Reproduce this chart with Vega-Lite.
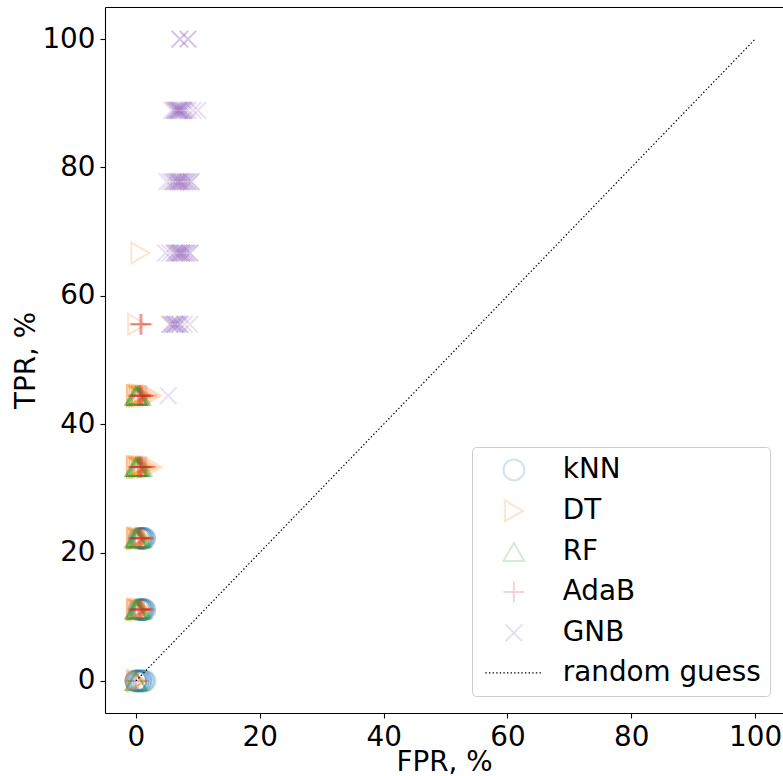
{
  "$schema": "https://vega.github.io/schema/vega-lite/v6.json",
  "width": 678,
  "height": 706,
  "autosize": {"type": "none"},
  "padding": {"left": 105, "top": 7, "right": 0, "bottom": 63},
  "config": {
    "view": {"stroke": null},
    "font": "DejaVu Sans",
    "axis": {
      "grid": false,
      "domainColor": "#000000",
      "domainWidth": 1.1,
      "tickColor": "#000000",
      "tickWidth": 1.1,
      "tickSize": 5,
      "labelPadding": 5,
      "labelFontSize": 27.8,
      "labelColor": "#000000",
      "labelFont": "DejaVu Sans",
      "titleFont": "DejaVu Sans",
      "titleFontSize": 27.8,
      "titleFontWeight": "normal",
      "titleColor": "#000000"
    },
    "legend": {
      "orient": "none",
      "legendX": 367,
      "legendY": 440,
      "padding": 9,
      "fillColor": "rgba(255,255,255,0.8)",
      "strokeColor": "#cccccc",
      "cornerRadius": 4,
      "labelFont": "DejaVu Sans",
      "labelFontSize": 27.8,
      "labelColor": "#000000",
      "labelLimit": 0,
      "labelOffset": 35,
      "symbolOffset": 19,
      "symbolSize": 434,
      "symbolStrokeWidth": 2,
      "rowPadding": 11
    }
  },
  "datasets": {
    "roc": [
      {"model": "kNN", "fpr": 0, "tpr": 0},
      {"model": "kNN", "fpr": 0, "tpr": 0},
      {"model": "kNN", "fpr": 0, "tpr": 0},
      {"model": "kNN", "fpr": 0, "tpr": 0},
      {"model": "kNN", "fpr": 0.4, "tpr": 0},
      {"model": "kNN", "fpr": 0.4, "tpr": 0},
      {"model": "kNN", "fpr": 0.4, "tpr": 0},
      {"model": "kNN", "fpr": 0.8, "tpr": 0},
      {"model": "kNN", "fpr": 0.8, "tpr": 0},
      {"model": "kNN", "fpr": 0.8, "tpr": 0},
      {"model": "kNN", "fpr": 1.2, "tpr": 0},
      {"model": "kNN", "fpr": 1.2, "tpr": 0},
      {"model": "kNN", "fpr": 1.5, "tpr": 0},
      {"model": "kNN", "fpr": 0.5, "tpr": 11.11},
      {"model": "kNN", "fpr": 0.5, "tpr": 11.11},
      {"model": "kNN", "fpr": 0.8, "tpr": 11.11},
      {"model": "kNN", "fpr": 0.8, "tpr": 11.11},
      {"model": "kNN", "fpr": 0.8, "tpr": 11.11},
      {"model": "kNN", "fpr": 1.1, "tpr": 11.11},
      {"model": "kNN", "fpr": 1.1, "tpr": 11.11},
      {"model": "kNN", "fpr": 1.1, "tpr": 11.11},
      {"model": "kNN", "fpr": 1.4, "tpr": 11.11},
      {"model": "kNN", "fpr": 1.4, "tpr": 11.11},
      {"model": "kNN", "fpr": 0.5, "tpr": 22.22},
      {"model": "kNN", "fpr": 0.5, "tpr": 22.22},
      {"model": "kNN", "fpr": 0.8, "tpr": 22.22},
      {"model": "kNN", "fpr": 0.8, "tpr": 22.22},
      {"model": "kNN", "fpr": 0.8, "tpr": 22.22},
      {"model": "kNN", "fpr": 1.1, "tpr": 22.22},
      {"model": "kNN", "fpr": 1.1, "tpr": 22.22},
      {"model": "kNN", "fpr": 1.1, "tpr": 22.22},
      {"model": "kNN", "fpr": 1.4, "tpr": 22.22},
      {"model": "kNN", "fpr": 1.4, "tpr": 22.22},

      {"model": "DT", "fpr": 0, "tpr": 0},
      {"model": "DT", "fpr": 0, "tpr": 0},
      {"model": "DT", "fpr": 0.3, "tpr": 0},
      {"model": "DT", "fpr": 0, "tpr": 11.11},
      {"model": "DT", "fpr": 0, "tpr": 11.11},
      {"model": "DT", "fpr": 0, "tpr": 11.11},
      {"model": "DT", "fpr": 0.3, "tpr": 11.11},
      {"model": "DT", "fpr": 0.3, "tpr": 11.11},
      {"model": "DT", "fpr": 0.6, "tpr": 11.11},
      {"model": "DT", "fpr": 0.6, "tpr": 11.11},
      {"model": "DT", "fpr": 1.0, "tpr": 11.11},
      {"model": "DT", "fpr": 1.3, "tpr": 11.11},
      {"model": "DT", "fpr": 0, "tpr": 22.22},
      {"model": "DT", "fpr": 0, "tpr": 22.22},
      {"model": "DT", "fpr": 0, "tpr": 22.22},
      {"model": "DT", "fpr": 0.3, "tpr": 22.22},
      {"model": "DT", "fpr": 0.3, "tpr": 22.22},
      {"model": "DT", "fpr": 0.6, "tpr": 22.22},
      {"model": "DT", "fpr": 0.6, "tpr": 22.22},
      {"model": "DT", "fpr": 1.0, "tpr": 22.22},
      {"model": "DT", "fpr": 1.3, "tpr": 22.22},
      {"model": "DT", "fpr": 0, "tpr": 33.33},
      {"model": "DT", "fpr": 0, "tpr": 33.33},
      {"model": "DT", "fpr": 0, "tpr": 33.33},
      {"model": "DT", "fpr": 0.4, "tpr": 33.33},
      {"model": "DT", "fpr": 0.4, "tpr": 33.33},
      {"model": "DT", "fpr": 0.4, "tpr": 33.33},
      {"model": "DT", "fpr": 0.8, "tpr": 33.33},
      {"model": "DT", "fpr": 0.8, "tpr": 33.33},
      {"model": "DT", "fpr": 0.8, "tpr": 33.33},
      {"model": "DT", "fpr": 1.2, "tpr": 33.33},
      {"model": "DT", "fpr": 1.2, "tpr": 33.33},
      {"model": "DT", "fpr": 1.7, "tpr": 33.33},
      {"model": "DT", "fpr": 1.7, "tpr": 33.33},
      {"model": "DT", "fpr": 2.2, "tpr": 33.33},
      {"model": "DT", "fpr": 2.7, "tpr": 33.33},
      {"model": "DT", "fpr": 0, "tpr": 44.44},
      {"model": "DT", "fpr": 0, "tpr": 44.44},
      {"model": "DT", "fpr": 0, "tpr": 44.44},
      {"model": "DT", "fpr": 0.4, "tpr": 44.44},
      {"model": "DT", "fpr": 0.4, "tpr": 44.44},
      {"model": "DT", "fpr": 0.4, "tpr": 44.44},
      {"model": "DT", "fpr": 0.8, "tpr": 44.44},
      {"model": "DT", "fpr": 0.8, "tpr": 44.44},
      {"model": "DT", "fpr": 0.8, "tpr": 44.44},
      {"model": "DT", "fpr": 1.2, "tpr": 44.44},
      {"model": "DT", "fpr": 1.2, "tpr": 44.44},
      {"model": "DT", "fpr": 1.7, "tpr": 44.44},
      {"model": "DT", "fpr": 2.2, "tpr": 44.44},
      {"model": "DT", "fpr": 2.6, "tpr": 44.44},
      {"model": "DT", "fpr": 0.2, "tpr": 55.56},
      {"model": "DT", "fpr": 0.7, "tpr": 66.67},

      {"model": "RF", "fpr": 0, "tpr": 0},
      {"model": "RF", "fpr": 0, "tpr": 0},
      {"model": "RF", "fpr": 0, "tpr": 0},
      {"model": "RF", "fpr": 0, "tpr": 11.11},
      {"model": "RF", "fpr": 0, "tpr": 11.11},
      {"model": "RF", "fpr": 0, "tpr": 11.11},
      {"model": "RF", "fpr": 0, "tpr": 11.11},
      {"model": "RF", "fpr": 0.3, "tpr": 11.11},
      {"model": "RF", "fpr": 0.3, "tpr": 11.11},
      {"model": "RF", "fpr": 0.3, "tpr": 11.11},
      {"model": "RF", "fpr": 0.6, "tpr": 11.11},
      {"model": "RF", "fpr": 0.6, "tpr": 11.11},
      {"model": "RF", "fpr": 0.9, "tpr": 11.11},
      {"model": "RF", "fpr": 0, "tpr": 22.22},
      {"model": "RF", "fpr": 0, "tpr": 22.22},
      {"model": "RF", "fpr": 0, "tpr": 22.22},
      {"model": "RF", "fpr": 0, "tpr": 22.22},
      {"model": "RF", "fpr": 0.3, "tpr": 22.22},
      {"model": "RF", "fpr": 0.3, "tpr": 22.22},
      {"model": "RF", "fpr": 0.3, "tpr": 22.22},
      {"model": "RF", "fpr": 0.6, "tpr": 22.22},
      {"model": "RF", "fpr": 0.6, "tpr": 22.22},
      {"model": "RF", "fpr": 0.9, "tpr": 22.22},
      {"model": "RF", "fpr": 0, "tpr": 33.33},
      {"model": "RF", "fpr": 0, "tpr": 33.33},
      {"model": "RF", "fpr": 0, "tpr": 33.33},
      {"model": "RF", "fpr": 0, "tpr": 33.33},
      {"model": "RF", "fpr": 0.3, "tpr": 33.33},
      {"model": "RF", "fpr": 0.3, "tpr": 33.33},
      {"model": "RF", "fpr": 0.3, "tpr": 33.33},
      {"model": "RF", "fpr": 0.6, "tpr": 33.33},
      {"model": "RF", "fpr": 0.6, "tpr": 33.33},
      {"model": "RF", "fpr": 0.9, "tpr": 33.33},
      {"model": "RF", "fpr": 0, "tpr": 44.44},
      {"model": "RF", "fpr": 0, "tpr": 44.44},
      {"model": "RF", "fpr": 0, "tpr": 44.44},
      {"model": "RF", "fpr": 0, "tpr": 44.44},
      {"model": "RF", "fpr": 0.3, "tpr": 44.44},
      {"model": "RF", "fpr": 0.3, "tpr": 44.44},
      {"model": "RF", "fpr": 0.3, "tpr": 44.44},
      {"model": "RF", "fpr": 0.6, "tpr": 44.44},
      {"model": "RF", "fpr": 0.6, "tpr": 44.44},

      {"model": "AdaB", "fpr": 0, "tpr": 0},
      {"model": "AdaB", "fpr": 0.4, "tpr": 0},
      {"model": "AdaB", "fpr": 0.4, "tpr": 11.11},
      {"model": "AdaB", "fpr": 0.4, "tpr": 11.11},
      {"model": "AdaB", "fpr": 0.7, "tpr": 11.11},
      {"model": "AdaB", "fpr": 0.7, "tpr": 11.11},
      {"model": "AdaB", "fpr": 0.7, "tpr": 11.11},
      {"model": "AdaB", "fpr": 1.0, "tpr": 11.11},
      {"model": "AdaB", "fpr": 1.0, "tpr": 11.11},
      {"model": "AdaB", "fpr": 1.3, "tpr": 11.11},
      {"model": "AdaB", "fpr": 0.4, "tpr": 22.22},
      {"model": "AdaB", "fpr": 0.4, "tpr": 22.22},
      {"model": "AdaB", "fpr": 0.7, "tpr": 22.22},
      {"model": "AdaB", "fpr": 0.7, "tpr": 22.22},
      {"model": "AdaB", "fpr": 0.7, "tpr": 22.22},
      {"model": "AdaB", "fpr": 1.0, "tpr": 22.22},
      {"model": "AdaB", "fpr": 1.0, "tpr": 22.22},
      {"model": "AdaB", "fpr": 1.3, "tpr": 22.22},
      {"model": "AdaB", "fpr": 0.4, "tpr": 33.33},
      {"model": "AdaB", "fpr": 0.4, "tpr": 33.33},
      {"model": "AdaB", "fpr": 0.7, "tpr": 33.33},
      {"model": "AdaB", "fpr": 0.7, "tpr": 33.33},
      {"model": "AdaB", "fpr": 0.7, "tpr": 33.33},
      {"model": "AdaB", "fpr": 1.0, "tpr": 33.33},
      {"model": "AdaB", "fpr": 1.0, "tpr": 33.33},
      {"model": "AdaB", "fpr": 1.4, "tpr": 33.33},
      {"model": "AdaB", "fpr": 1.7, "tpr": 33.33},
      {"model": "AdaB", "fpr": 0.4, "tpr": 44.44},
      {"model": "AdaB", "fpr": 0.4, "tpr": 44.44},
      {"model": "AdaB", "fpr": 0.7, "tpr": 44.44},
      {"model": "AdaB", "fpr": 0.7, "tpr": 44.44},
      {"model": "AdaB", "fpr": 0.7, "tpr": 44.44},
      {"model": "AdaB", "fpr": 1.0, "tpr": 44.44},
      {"model": "AdaB", "fpr": 1.0, "tpr": 44.44},
      {"model": "AdaB", "fpr": 1.4, "tpr": 44.44},
      {"model": "AdaB", "fpr": 1.7, "tpr": 44.44},
      {"model": "AdaB", "fpr": 0.6, "tpr": 55.56},
      {"model": "AdaB", "fpr": 0.8, "tpr": 55.56},
      {"model": "AdaB", "fpr": 0.8, "tpr": 55.56},
      {"model": "AdaB", "fpr": 1.0, "tpr": 55.56},

      {"model": "GNB", "fpr": 5.2, "tpr": 44.44},
      {"model": "GNB", "fpr": 5.5, "tpr": 55.56},
      {"model": "GNB", "fpr": 5.5, "tpr": 55.56},
      {"model": "GNB", "fpr": 5.9, "tpr": 55.56},
      {"model": "GNB", "fpr": 5.9, "tpr": 55.56},
      {"model": "GNB", "fpr": 6.3, "tpr": 55.56},
      {"model": "GNB", "fpr": 6.3, "tpr": 55.56},
      {"model": "GNB", "fpr": 6.3, "tpr": 55.56},
      {"model": "GNB", "fpr": 6.7, "tpr": 55.56},
      {"model": "GNB", "fpr": 6.7, "tpr": 55.56},
      {"model": "GNB", "fpr": 7.1, "tpr": 55.56},
      {"model": "GNB", "fpr": 7.1, "tpr": 55.56},
      {"model": "GNB", "fpr": 7.8, "tpr": 55.56},
      {"model": "GNB", "fpr": 8.7, "tpr": 55.56},
      {"model": "GNB", "fpr": 4.8, "tpr": 66.67},
      {"model": "GNB", "fpr": 5.5, "tpr": 66.67},
      {"model": "GNB", "fpr": 6.2, "tpr": 66.67},
      {"model": "GNB", "fpr": 6.2, "tpr": 66.67},
      {"model": "GNB", "fpr": 6.6, "tpr": 66.67},
      {"model": "GNB", "fpr": 6.6, "tpr": 66.67},
      {"model": "GNB", "fpr": 7.0, "tpr": 66.67},
      {"model": "GNB", "fpr": 7.0, "tpr": 66.67},
      {"model": "GNB", "fpr": 7.0, "tpr": 66.67},
      {"model": "GNB", "fpr": 7.4, "tpr": 66.67},
      {"model": "GNB", "fpr": 7.4, "tpr": 66.67},
      {"model": "GNB", "fpr": 7.4, "tpr": 66.67},
      {"model": "GNB", "fpr": 7.8, "tpr": 66.67},
      {"model": "GNB", "fpr": 7.8, "tpr": 66.67},
      {"model": "GNB", "fpr": 8.2, "tpr": 66.67},
      {"model": "GNB", "fpr": 8.2, "tpr": 66.67},
      {"model": "GNB", "fpr": 8.7, "tpr": 66.67},
      {"model": "GNB", "fpr": 8.7, "tpr": 66.67},
      {"model": "GNB", "fpr": 5.0, "tpr": 77.78},
      {"model": "GNB", "fpr": 5.5, "tpr": 77.78},
      {"model": "GNB", "fpr": 6.0, "tpr": 77.78},
      {"model": "GNB", "fpr": 6.0, "tpr": 77.78},
      {"model": "GNB", "fpr": 6.4, "tpr": 77.78},
      {"model": "GNB", "fpr": 6.4, "tpr": 77.78},
      {"model": "GNB", "fpr": 6.8, "tpr": 77.78},
      {"model": "GNB", "fpr": 6.8, "tpr": 77.78},
      {"model": "GNB", "fpr": 6.8, "tpr": 77.78},
      {"model": "GNB", "fpr": 7.2, "tpr": 77.78},
      {"model": "GNB", "fpr": 7.2, "tpr": 77.78},
      {"model": "GNB", "fpr": 7.2, "tpr": 77.78},
      {"model": "GNB", "fpr": 7.6, "tpr": 77.78},
      {"model": "GNB", "fpr": 7.6, "tpr": 77.78},
      {"model": "GNB", "fpr": 8.0, "tpr": 77.78},
      {"model": "GNB", "fpr": 8.0, "tpr": 77.78},
      {"model": "GNB", "fpr": 8.4, "tpr": 77.78},
      {"model": "GNB", "fpr": 8.4, "tpr": 77.78},
      {"model": "GNB", "fpr": 8.9, "tpr": 77.78},
      {"model": "GNB", "fpr": 8.9, "tpr": 77.78},
      {"model": "GNB", "fpr": 5.8, "tpr": 88.89},
      {"model": "GNB", "fpr": 6.2, "tpr": 88.89},
      {"model": "GNB", "fpr": 6.2, "tpr": 88.89},
      {"model": "GNB", "fpr": 6.5, "tpr": 88.89},
      {"model": "GNB", "fpr": 6.5, "tpr": 88.89},
      {"model": "GNB", "fpr": 6.8, "tpr": 88.89},
      {"model": "GNB", "fpr": 6.8, "tpr": 88.89},
      {"model": "GNB", "fpr": 6.8, "tpr": 88.89},
      {"model": "GNB", "fpr": 7.1, "tpr": 88.89},
      {"model": "GNB", "fpr": 7.1, "tpr": 88.89},
      {"model": "GNB", "fpr": 7.1, "tpr": 88.89},
      {"model": "GNB", "fpr": 7.4, "tpr": 88.89},
      {"model": "GNB", "fpr": 7.4, "tpr": 88.89},
      {"model": "GNB", "fpr": 7.7, "tpr": 88.89},
      {"model": "GNB", "fpr": 7.7, "tpr": 88.89},
      {"model": "GNB", "fpr": 8.0, "tpr": 88.89},
      {"model": "GNB", "fpr": 8.4, "tpr": 88.89},
      {"model": "GNB", "fpr": 9.2, "tpr": 88.89},
      {"model": "GNB", "fpr": 10.0, "tpr": 88.89},
      {"model": "GNB", "fpr": 7.1, "tpr": 100},
      {"model": "GNB", "fpr": 7.1, "tpr": 100},
      {"model": "GNB", "fpr": 8.4, "tpr": 100},
      {"model": "GNB", "fpr": 8.4, "tpr": 100}
    ],
    "diagonal": [
      {"fpr": 0, "tpr": 0},
      {"fpr": 100, "tpr": 100}
    ]
  },
  "layer": [
    {
      "data": {"name": "roc"},
      "mark": {"type": "point", "filled": false, "size": 434},
      "encoding": {
        "x": {
          "field": "fpr", "type": "quantitative",
          "scale": {"domain": [-5, 104.5], "nice": false, "zero": false},
          "axis": {"values": [0, 20, 40, 60, 80, 100], "title": "FPR, %", "orient": "bottom", "titlePadding": -2}
        },
        "y": {
          "field": "tpr", "type": "quantitative",
          "scale": {"domain": [-5, 105], "nice": false, "zero": false},
          "axis": {"values": [0, 20, 40, 60, 80, 100], "title": "TPR, %", "orient": "left", "titlePadding": 1}
        },
        "color": {
          "field": "model", "type": "nominal",
          "scale": {
            "domain": ["kNN", "DT", "RF", "AdaB", "GNB", "random guess"],
            "range": ["#1f77b4", "#ff7f0e", "#2ca02c", "#d62728", "#9467bd", "#000000"]
          },
          "legend": {"title": null}
        },
        "shape": {
          "field": "model", "type": "nominal",
          "scale": {
            "domain": ["kNN", "DT", "RF", "AdaB", "GNB", "random guess"],
            "range": [
              "circle",
              "triangle-right",
              "triangle-up",
              "M-1,0H1M0,-1V1",
              "M-0.8,-0.8L0.8,0.8M-0.8,0.8L0.8,-0.8",
              "M-2.74,0h0.135M-2.394,0h0.135M-2.048,0h0.135M-1.702,0h0.135M-1.356,0h0.135M-1.01,0h0.135M-0.664,0h0.135M-0.318,0h0.135M0.028,0h0.135M0.374,0h0.135M0.72,0h0.135M1.066,0h0.135M1.412,0h0.135M1.758,0h0.135M2.104,0h0.135M2.45,0h0.135"
            ]
          },
          "legend": {"title": null}
        },
        "opacity": {
          "field": "model", "type": "nominal",
          "scale": {
            "type": "ordinal",
            "domain": ["kNN", "DT", "RF", "AdaB", "GNB", "random guess"],
            "range": [0.2, 0.2, 0.2, 0.2, 0.2, 1]
          },
          "legend": {"title": null}
        },
        "strokeWidth": {
          "field": "model", "type": "nominal",
          "scale": {
            "type": "ordinal",
            "domain": ["kNN", "DT", "RF", "AdaB", "GNB", "random guess"],
            "range": [2, 2, 2, 2, 2, 1.3]
          },
          "legend": {"title": null}
        }
      }
    },
    {
      "data": {"name": "diagonal"},
      "mark": {"type": "line", "color": "#000000", "strokeWidth": 1.2, "strokeDash": [1.4, 2.2]},
      "encoding": {
        "x": {
          "field": "fpr", "type": "quantitative",
          "axis": {"orient": "top", "labels": false, "ticks": false, "title": null, "domain": true}
        },
        "y": {"field": "tpr", "type": "quantitative"}
      }
    }
  ]
}
